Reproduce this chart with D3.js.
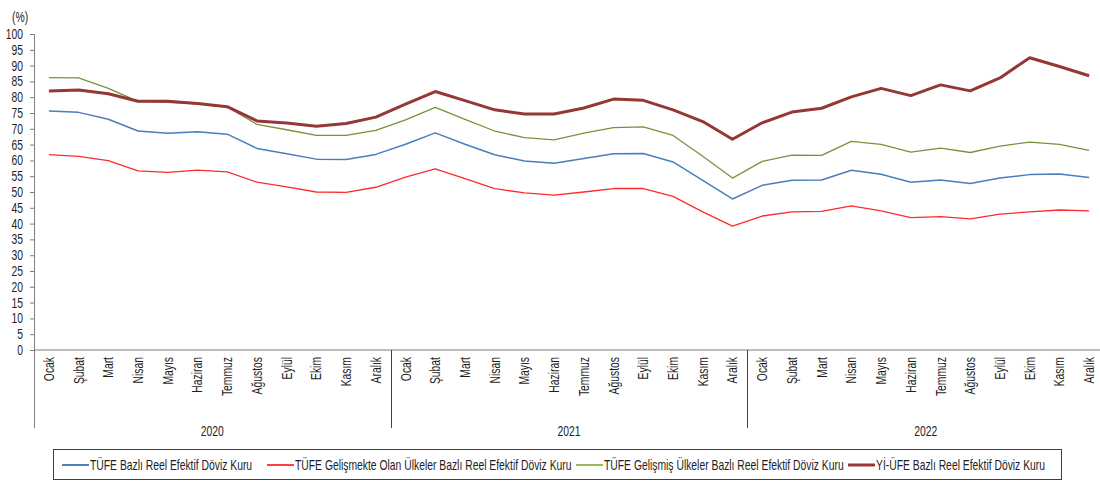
<!DOCTYPE html>
<html>
<head>
<meta charset="utf-8">
<script src="https://cdn.jsdelivr.net/npm/d3@7/dist/d3.min.js"></script>
<style>
  html, body { margin: 0; padding: 0; background: #fff; }
  svg text { font-family: "Liberation Sans", Arial, sans-serif; fill: #1e1e1e; font-size: 14px; }
</style>
</head>
<body>
<svg id="chart" width="1100" height="481"></svg>
<script>
// Aylar ve yıllar
const years = ["2020", "2021", "2022"];
const months = ["Ocak", "Şubat", "Mart", "Nisan", "Mayıs", "Haziran", "Temmuz", "Ağustos", "Eylül", "Ekim", "Kasım", "Aralık"];
const yTicks = [0, 5, 10, 15, 20, 25, 30, 35, 40, 45, 50, 55, 60, 65, 70, 75, 80, 85, 90, 95, 100];

// Reel efektif döviz kuru endeksleri (Ocak 2020 – Aralık 2022)
const tufeBazli = [
  75.6, 75.2, 73.0, 69.3, 68.6, 69.1, 68.3, 63.8, 62.1, 60.4, 60.3, 61.9,
  65.1, 68.7, 65.1, 61.8, 59.8, 59.1, 60.6, 62.1, 62.2, 59.5, 53.7, 47.8,
  52.1, 53.7, 53.8, 56.9, 55.6, 53.1, 53.8, 52.7, 54.4, 55.5, 55.7, 54.6
];
const tufeGelismekte = [
  61.8, 61.3, 59.9, 56.7, 56.2, 56.9, 56.4, 53.1, 51.6, 50.0, 49.9, 51.5,
  54.7, 57.3, 54.2, 51.1, 49.7, 49.0, 50.0, 51.1, 51.1, 48.6, 43.7, 39.2,
  42.4, 43.7, 43.9, 45.6, 44.0, 41.9, 42.2, 41.5, 43.0, 43.7, 44.3, 44.0
];
const tufeGelismis = [
  86.2, 86.1, 82.8, 78.7, 78.4, 77.9, 76.9, 71.4, 69.7, 67.9, 67.9, 69.5,
  72.8, 76.8, 73.0, 69.3, 67.2, 66.5, 68.6, 70.4, 70.6, 67.9, 61.3, 54.4,
  59.7, 61.7, 61.6, 66.0, 65.1, 62.6, 63.9, 62.5, 64.5, 65.8, 65.1, 63.2
];
const yiUfeBazli = [
  82.0, 82.3, 81.1, 78.7, 78.7, 78.0, 77.0, 72.5, 71.8, 70.8, 71.7, 73.7,
  77.8, 81.8, 78.9, 76.0, 74.7, 74.7, 76.6, 79.4, 79.0, 76.0, 72.3, 66.7,
  71.9, 75.3, 76.5, 80.1, 82.8, 80.5, 83.9, 82.0, 86.1, 92.5, 89.7, 86.8
];

const seriesNames = [
  "TÜFE Bazlı Reel Efektif Döviz Kuru",
  "TÜFE Gelişmekte Olan Ülkeler Bazlı Reel Efektif Döviz Kuru",
  "TÜFE Gelişmiş Ülkeler Bazlı Reel Efektif Döviz Kuru",
  "Yİ-ÜFE Bazlı Reel Efektif Döviz Kuru"
];

(function draw() {
  const series = [
    { name: seriesNames[0], values: tufeBazli, color: "#4a7ebb", width: 1.5, legendColor: "#4f81bd" },
    { name: seriesNames[1], values: tufeGelismekte, color: "#ff2a2a", width: 1.3, legendColor: "#ff4040" },
    { name: seriesNames[2], values: tufeGelismis, color: "#77933c", width: 1.3, legendColor: "#9bbb59" },
    { name: seriesNames[3], values: yiUfeBazli, color: "#953735", width: 3, legendColor: "#953735" }
  ];

  // Kategori anahtarları: yıl|ay
  const keys = [];
  years.forEach(yr => months.forEach(m => keys.push(yr + "|" + m)));

  const svg = d3.select("#chart");
  const mLeft = 34, mRight = 1104, mTop = 34, mBottom = 350;
  const squeeze = 0.74; // dar yazı görünümü için yatay sıkıştırma

  const x = d3.scaleBand().domain(keys).range([mLeft, mRight]);
  const y = d3.scaleLinear().domain([0, 100]).range([mBottom, mTop]);
  const cx = k => x(k) + x.bandwidth() / 2;

  const axisColor = "#7f7f7f";

  // Dar yazı: konumla, gerekirse döndür, yatayda sıkıştır
  function narrowText(parent, tx, ty, str, anchor, rot) {
    return parent.append("text")
      .attr("transform", `translate(${tx},${ty})${rot ? ` rotate(${rot})` : ""} scale(${squeeze},1)`)
      .attr("text-anchor", anchor || "start")
      .text(str);
  }

  // Y ekseni
  const yAxis = svg.append("g")
    .attr("transform", `translate(${mLeft},0)`)
    .call(d3.axisLeft(y).tickValues(yTicks).tickSize(4).tickFormat(""));
  yAxis.select(".domain").attr("stroke", axisColor);
  yAxis.selectAll(".tick line").attr("stroke", axisColor);
  yTicks.forEach(v => narrowText(svg, 23, y(v) + 5, String(v), "end"));

  narrowText(svg, 12, 22, "(%)", "start");

  // X ekseni
  svg.append("line")
    .attr("x1", mLeft).attr("x2", mRight)
    .attr("y1", mBottom).attr("y2", mBottom)
    .attr("stroke", axisColor);

  // Yıl ayırıcıları ve yıl etiketleri
  years.forEach((yr, i) => {
    const xs = x(yr + "|" + months[0]);
    svg.append("line")
      .attr("x1", Math.round(xs) + 0.5).attr("x2", Math.round(xs) + 0.5)
      .attr("y1", mBottom).attr("y2", 428)
      .attr("stroke", i === 0 ? axisColor : "#404040");
    const xe = x(yr + "|" + months[11]) + x.bandwidth();
    narrowText(svg, (xs + xe) / 2, 436, yr, "middle");
  });

  // Ay etiketleri
  const monthG = svg.append("g");
  keys.forEach(k => narrowText(monthG, cx(k) + 5, 357, k.split("|")[1], "end", -90));

  // Seriler
  const line = d3.line().x((d, i) => cx(keys[i])).y(d => y(d));
  series.forEach(s => {
    svg.append("path")
      .datum(s.values)
      .attr("d", line)
      .attr("fill", "none")
      .attr("stroke", s.color)
      .attr("stroke-width", s.width)
      .attr("stroke-linejoin", "round");
  });

  // Açıklama kutusu
  svg.append("rect")
    .attr("x", 53.5).attr("y", 449.5)
    .attr("width", 1008).attr("height", 30)
    .attr("fill", "#fff").attr("stroke", "#404040");

  const legendX = [62, 267, 576, 848];
  series.forEach((s, i) => {
    const g = svg.append("g").attr("transform", `translate(${legendX[i]},465)`);
    g.append("line").attr("x1", 0).attr("x2", 27).attr("y1", 0).attr("y2", 0)
      .attr("stroke", s.legendColor).attr("stroke-width", i === 3 ? 3 : 2);
    narrowText(g, 28, 5, s.name, "start");
  });
})();
</script>
</body>
</html>
